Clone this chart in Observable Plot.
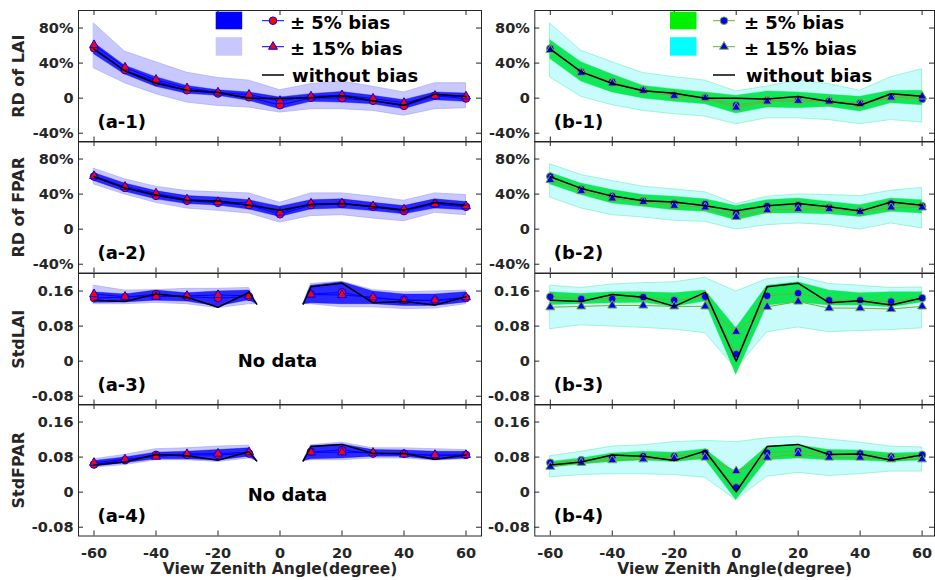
<!DOCTYPE html>
<html><head><meta charset="utf-8">
<script src="https://cdn.jsdelivr.net/npm/d3@7"></script>
<script src="https://cdn.jsdelivr.net/npm/@observablehq/plot@0.6"></script>
<style>
html,body{margin:0;padding:0;overflow:hidden;background:#fff;}
#chart{position:relative;width:935px;height:580px;overflow:hidden;}
#chart svg{position:absolute;}
</style></head><body><div id="chart"></div>
<script>
// ---------- data ----------
const angles = [-60,-50,-40,-30,-20,-10,0,10,20,30,40,50,60];
const anglesGap = [-60,-50,-40,-30,-20,-10,-7.5,0,7.5,10,20,30,40,50,60];
const xTicks = [-60,-40,-20,0,20,40,60];
const pctTicks = [-40,0,40,80];
const stdTicks = [-0.08,0,0.08,0.16];

// (a-1) RD of LAI, percent
const a1Base   = [56, 31, 17, 9, 6.5, 0, -0.4, 0.4, 2.7, -3, -8, 4.6, 2];
const a1Circ5  = [57, 32, 19, 9, 5.3, 1, -8, 0.4, 0, -3, -8.8, 2.7, -0.4];
const a1Tri15  = [60.6, 35, 21, 11.4, 6.5, 4, -3, 2, 3.4, -0.4, -5.3, 2.7, 2];
const a1Band5Hi  = [63, 37, 24, 14, 9, 6.5, 0.8, 4.6, 7, 2.7, -2.3, 6.5, 5.3];
const a1Band5Lo  = [50, 27, 13, 5, 2.7, -3, -12.6, -4.2, -5, -7, -12.6, -2.3, -4.2];
const a1Band15Hi = [85, 53, 41, 29, 23, 20, 9, 16, 19, 13, 6.5, 17, 17];
const a1Band15Lo = [34, 17, 4.6, -5, -8.8, -10.7, -16.4, -12.6, -12.6, -14.5, -20, -12.6, -11.4];

// (b-1)
const b1Base   = [56, 30, 16.8, 8.4, 5.7, 0, 0, -1, 2, -3.8, -8, 5, 2.3];
const b1Circ5  = [56.7, 30, 18.7, 9, 3.4, 0.8, -8, -2.3, -2.3, -3, -5.7, 1.5, -1];
const b1Tri15  = [55, 29, 16.8, 8.4, 2.7, 0, -10.7, -3.8, -3, -3.8, -6.9, 0.8, 2];
const b1Band5Hi  = [66, 41, 27, 14, 10, 6.5, 2.7, 7.6, 6.5, 3.8, 1.5, 8.4, 8.4];
const b1Band5Lo  = [44.6, 19, 6.5, -0.4, -4.2, -7, -17.5, -10.7, -11.4, -10, -15.2, -5.7, -8];
const b1Band15Hi = [85, 54, 41, 28.6, 24, 20, 7.6, 13.3, 20, 16, 8.4, 24, 33];
const b1Band15Lo = [23.6, 1.5, -8, -14.5, -18.3, -21, -29.7, -23, -23, -25, -29.7, -25, -27.8];

// (a-2) RD of FPAR
const a2Base   = [59.8, 47, 38.9, 33, 32, 27.4, 21.7, 28.2, 29.3, 25.5, 21.7, 30.5, 27.4];
const a2Circ5  = [60, 47, 38, 32.4, 30, 27.4, 17, 27.4, 28.6, 25.5, 20.6, 28.6, 25.5];
const a2Tri15  = [60.6, 48.4, 40.8, 34, 31, 30, 19, 29.3, 29.3, 26.3, 22.5, 28.6, 26.3];
const a2Band5Hi  = [64, 52, 43.4, 37.7, 36, 33, 25.5, 33, 34, 30, 26.3, 34, 31];
const a2Band5Lo  = [55, 42.7, 34, 28.6, 27, 22.5, 14, 22.5, 23.6, 20.6, 17, 23.6, 21.7];
const a2Band15Hi = [69, 56.8, 48.4, 43.4, 42, 40.8, 30, 40.8, 40.8, 37, 32.4, 40.8, 38.9];
const a2Band15Lo = [51, 39.6, 30, 23.6, 21, 18, 7.6, 14.9, 16, 12.2, 9, 18.7, 16];

// (b-2)
const b2Base   = [59.8, 46.5, 37.7, 32.4, 31, 26.7, 21, 26.7, 29.3, 25.5, 20.6, 30.9, 27.4];
const b2Circ5  = [60, 45.7, 37.7, 32.4, 29.3, 28.6, 18, 26.3, 27.4, 24.8, 20.6, 29.3, 26.3];
const b2Tri15  = [56, 43.4, 35, 31, 26.7, 24.8, 14, 21.7, 22.9, 22.9, 19.8, 24.8, 24.8];
const b2Band5Hi  = [64, 52, 44.6, 38.9, 37, 34, 26.3, 33, 35, 31, 27.4, 35, 33];
const b2Band5Lo  = [51, 38.9, 29.3, 25.5, 21.7, 19.8, 10.3, 18, 18, 17, 14, 19.8, 18];
const b2Band15Hi = [74, 61.7, 55, 48.4, 45.3, 42, 28.6, 37, 39.6, 38.9, 37.7, 43.8, 47];
const b2Band15Lo = [36, 23.6, 16, 13.3, 9.5, 8.4, -0.4, 4.6, 6.5, 4.6, -0.4, 6.5, 0.8];

// (a-3) StdLAI (no data near nadir)
const a3Base   = [0.139, 0.136, 0.153, 0.146, 0.123, 0.157, 0.130, null, 0.130, 0.170, 0.178, 0.133, 0.136, 0.128, 0.147];
const a3Circ5  = [0.144, 0.146, 0.153, 0.147, 0.144, 0.147, null, null, null, 0.153, 0.157, 0.143, 0.140, 0.138, 0.144];
const a3Tri15  = [0.153, 0.147, 0.147, 0.149, 0.151, 0.149, null, null, null, 0.152, 0.151, 0.146, 0.138, 0.139, 0.146];
const a3Band5Hi  = [0.157, 0.152, 0.161, 0.155, 0.159, 0.161, 0.130, null, 0.130, 0.172, 0.180, 0.159, 0.152, 0.152, 0.157];
const a3Band5Lo  = [0.133, 0.134, 0.138, 0.136, 0.125, 0.139, 0.130, null, 0.130, 0.132, 0.130, 0.130, 0.126, 0.126, 0.134];
const a3Band15Hi = [0.172, 0.161, 0.162, 0.165, 0.165, 0.167, 0.130, null, 0.130, 0.176, 0.181, 0.162, 0.157, 0.159, 0.161];
const a3Band15Lo = [0.130, 0.130, 0.133, 0.130, 0.121, 0.130, 0.130, null, 0.130, 0.130, 0.123, 0.123, 0.119, 0.120, 0.130];

// (b-3)
const b3Base   = [0.139, 0.136, 0.152, 0.146, 0.125, 0.157, 0.000, 0.170, 0.178, 0.133, 0.138, 0.128, 0.144];
const b3Circ5  = [0.147, 0.142, 0.142, 0.146, 0.139, 0.147, 0.016, 0.149, 0.155, 0.139, 0.139, 0.136, 0.144];
const b3Tri15  = [0.123, 0.125, 0.127, 0.127, 0.125, 0.125, 0.067, 0.124, 0.136, 0.121, 0.121, 0.119, 0.125];
const b3Band5Hi  = [0.157, 0.153, 0.157, 0.157, 0.155, 0.161, 0.075, 0.172, 0.180, 0.161, 0.155, 0.157, 0.157];
const b3Band5Lo  = [0.128, 0.130, 0.132, 0.133, 0.124, 0.136, -0.031, 0.127, 0.134, 0.127, 0.127, 0.123, 0.134];
const b3Band15Hi = [0.172, 0.167, 0.175, 0.178, 0.180, 0.190, 0.159, 0.187, 0.193, 0.176, 0.172, 0.167, 0.168];
const b3Band15Lo = [0.073, 0.082, 0.079, 0.076, 0.072, 0.064, -0.018, 0.066, 0.077, 0.066, 0.069, 0.071, 0.075];

// (a-4) StdFPAR (no data near nadir)
const a4Base   = [0.062, 0.069, 0.086, 0.083, 0.073, 0.092, 0.071, null, 0.071, 0.104, 0.109, 0.088, 0.088, 0.075, 0.085];
const a4Circ5  = [0.063, 0.073, 0.085, 0.085, 0.085, 0.088, null, null, null, 0.092, 0.096, 0.088, 0.088, 0.083, 0.085];
const a4Tri15  = [0.067, 0.075, 0.081, 0.087, 0.088, 0.091, null, null, null, 0.091, 0.091, 0.090, 0.086, 0.085, 0.085];
const a4Band5Hi  = [0.071, 0.079, 0.090, 0.092, 0.096, 0.100, 0.071, null, 0.071, 0.105, 0.109, 0.096, 0.095, 0.092, 0.092];
const a4Band5Lo  = [0.058, 0.066, 0.075, 0.075, 0.072, 0.081, 0.071, null, 0.071, 0.075, 0.077, 0.081, 0.081, 0.073, 0.077];
const a4Band15Hi = [0.075, 0.085, 0.098, 0.100, 0.104, 0.106, 0.071, null, 0.071, 0.107, 0.113, 0.100, 0.100, 0.098, 0.096];
const a4Band15Lo = [0.056, 0.062, 0.073, 0.073, 0.069, 0.077, 0.071, null, 0.071, 0.073, 0.073, 0.077, 0.077, 0.072, 0.075];

// (b-4)
const b4Base   = [0.062, 0.069, 0.085, 0.082, 0.072, 0.094, 0.001, 0.104, 0.109, 0.086, 0.087, 0.073, 0.085];
const b4Circ5  = [0.067, 0.073, 0.079, 0.082, 0.082, 0.090, 0.011, 0.090, 0.094, 0.087, 0.088, 0.081, 0.085];
const b4Tri15  = [0.058, 0.067, 0.073, 0.075, 0.077, 0.079, 0.048, 0.079, 0.087, 0.079, 0.079, 0.075, 0.075];
const b4Band5Hi  = [0.069, 0.077, 0.088, 0.092, 0.090, 0.098, 0.043, 0.104, 0.107, 0.096, 0.095, 0.088, 0.090];
const b4Band5Lo  = [0.056, 0.063, 0.069, 0.072, 0.069, 0.075, -0.018, 0.073, 0.077, 0.073, 0.072, 0.069, 0.072];
const b4Band15Hi = [0.082, 0.092, 0.104, 0.107, 0.114, 0.117, 0.114, 0.123, 0.127, 0.120, 0.113, 0.104, 0.102];
const b4Band15Lo = [0.034, 0.039, 0.041, 0.041, 0.039, 0.033, -0.018, 0.035, 0.044, 0.037, 0.041, 0.047, 0.047];

const legendLabels = ["± 5% bias", "± 15% bias", "without bias"];
const yTitles = ["RD of LAI", "RD of FPAR", "StdLAI", "StdFPAR"];
const xTitle = "View Zenith Angle(degree)";

// ---------- styling / layout ----------
const AX = "#262626";
const FONT = "'DejaVu Sans', 'Liberation Sans', sans-serif";
const theme = {
  a: {b15: "#c8c8ff", b15s: "#a6a6ff", b5: "#0000ff", b5o: 0.8, line: "#0000ff", mf: "#ff0000", ms: "#0000ff",
      sw5: "#0000ff", sw15: "#c8c8ff"},
  b: {b15: "#c8fbfb", b15s: "#7af2c4", b5: "#00e64c", b5o: 0.92, line: "#77ac30", mf: "#0000ff", ms: "#77ac30",
      sw5: "#00f000", sw15: "#00ffff"}
};
const colGeom = {
  a: {left: 0, width: 500, ml: 78, mr: 19, domain: [-65, 65]},
  b: {left: 480, width: 455, ml: 54.3, mr: 1, domain: [-65, 64]}
};
const innerH = 131.5, top0 = 9.8;

const panels = [
  {col:"a", row:0, xs:angles, d:[a1Base,a1Circ5,a1Tri15,a1Band5Lo,a1Band5Hi,a1Band15Lo,a1Band15Hi], label:"(a-1)"},
  {col:"b", row:0, xs:angles, d:[b1Base,b1Circ5,b1Tri15,b1Band5Lo,b1Band5Hi,b1Band15Lo,b1Band15Hi], label:"(b-1)"},
  {col:"a", row:1, xs:angles, d:[a2Base,a2Circ5,a2Tri15,a2Band5Lo,a2Band5Hi,a2Band15Lo,a2Band15Hi], label:"(a-2)"},
  {col:"b", row:1, xs:angles, d:[b2Base,b2Circ5,b2Tri15,b2Band5Lo,b2Band5Hi,b2Band15Lo,b2Band15Hi], label:"(b-2)"},
  {col:"a", row:2, xs:anglesGap, d:[a3Base,a3Circ5,a3Tri15,a3Band5Lo,a3Band5Hi,a3Band15Lo,a3Band15Hi], label:"(a-3)", noData:[-0.8, 0]},
  {col:"b", row:2, xs:angles, d:[b3Base,b3Circ5,b3Tri15,b3Band5Lo,b3Band5Hi,b3Band15Lo,b3Band15Hi], label:"(b-3)"},
  {col:"a", row:3, xs:anglesGap, d:[a4Base,a4Circ5,a4Tri15,a4Band5Lo,a4Band5Hi,a4Band15Lo,a4Band15Hi], label:"(a-4)", noData:[2.4, -0.007]},
  {col:"b", row:3, xs:angles, d:[b4Base,b4Circ5,b4Tri15,b4Band5Lo,b4Band5Hi,b4Band15Lo,b4Band15Hi], label:"(b-4)"}
];

const chart = document.getElementById("chart");
const pctFmt = d => d === 0 ? "0" : d + "%";
const stdFmt = d => d === 0 ? "0" : d.toFixed(2);

for (const p of panels) {
  const th = theme[p.col], g = colGeom[p.col];
  const isPct = p.row < 2;
  const yDomain = isPct ? [-50, 100] : [-0.1, 0.2];
  const yTicks = isPct ? pctTicks : stdTicks;
  const bottom = p.row === 3;
  const mt = 6, mb = bottom ? 46 : 6;
  const innerW = g.width - g.ml - g.mr;
  const [base, c5, t15, lo5, hi5, lo15, hi15] = p.d;
  const rows = p.xs.map((x, i) => ({x, base: base[i], c5: c5[i], t15: t15[i], lo5: lo5[i], hi5: hi5[i], lo15: lo15[i], hi15: hi15[i]}));
  const marks = [
    Plot.areaY(rows, {x: "x", y1: "lo15", y2: "hi15", fill: th.b15, stroke: th.b15s, strokeWidth: 0.7}),
    Plot.areaY(rows, {x: "x", y1: "lo5", y2: "hi5", fill: th.b5, fillOpacity: th.b5o, stroke: th.b5, strokeOpacity: 0.6, strokeWidth: 0.6}),
    Plot.line(rows, {x: "x", y: "c5", stroke: th.line, strokeWidth: 1}),
    Plot.line(rows, {x: "x", y: "t15", stroke: th.line, strokeWidth: 1}),
    Plot.dot(rows, {x: "x", y: "c5", r: 3.8, fill: th.mf, stroke: th.ms, strokeWidth: 1}),
    Plot.dot(rows, {x: "x", y: "t15", r: 3.3, symbol: "triangle", fill: th.mf, stroke: th.ms, strokeWidth: 1}),
    Plot.line(rows, {x: "x", y: "base", stroke: "black", strokeWidth: 1.5}),
    Plot.frame({stroke: AX, strokeWidth: 1}),
    Plot.tickX(xTicks, {x: d => d, insetTop: innerH - 5, stroke: AX}),
    Plot.tickX(xTicks, {x: d => d, insetBottom: innerH - 5, stroke: AX}),
    Plot.tickY(yTicks, {y: d => d, insetRight: innerW - 5, stroke: AX}),
    Plot.tickY(yTicks, {y: d => d, insetLeft: innerW - 5, stroke: AX}),
    Plot.axisY({ticks: yTicks, tickSize: 0, tickPadding: 5, tickFormat: isPct ? pctFmt : stdFmt, label: null, fontSize: 14.5, fontWeight: "bold"}),
    Plot.text([p.label], {text: d => d, frameAnchor: "bottom-left", dx: 19, dy: -20, textAnchor: "start", lineAnchor: "middle", fontSize: 18, fontWeight: "bold", fill: "black"})
  ];
  if (p.col === "a") {
    marks.push(Plot.text([yTitles[p.row]], {text: d => d, frameAnchor: "left", dx: -60, rotate: -90, textAnchor: "middle", lineAnchor: "middle", fontSize: 16, fontWeight: "bold", fill: AX}));
  }
  if (bottom) {
    marks.push(Plot.axisX({ticks: xTicks, tickSize: 0, tickPadding: 12, tickFormat: d => String(d), label: null, fontSize: 14.5, fontWeight: "bold"}));
    marks.push(Plot.text([xTitle], {text: d => d, frameAnchor: "bottom", dy: 33, lineAnchor: "middle", fontSize: 15.5, fontWeight: "bold", fill: AX}));
  }
  if (p.noData) {
    marks.push(Plot.text([p.noData], {x: d => d[0], y: d => d[1], text: () => "No data", fontSize: 18, fontWeight: "bold", fill: "black"}));
  }
  const svg = Plot.plot({
    width: g.width, height: mt + innerH + mb,
    marginLeft: g.ml, marginRight: g.mr, marginTop: mt, marginBottom: mb,
    x: {domain: g.domain, axis: null},
    y: {domain: yDomain, axis: null},
    style: `font-family: ${FONT}; font-size: 14.5px; font-weight: bold; overflow: visible; background: transparent; max-width: none; color: ${AX};`,
    marks
  });
  svg.style.position = "absolute";
  svg.style.left = g.left + "px";
  svg.style.top = (top0 + innerH * p.row - mt) + "px";
  chart.appendChild(svg);
}

// ---------- legends ----------
const leg = d3.select(chart).append("svg")
  .attr("width", 935).attr("height", 580)
  .style("left", "0px").style("top", "0px").style("pointer-events", "none")
  .style("font-family", FONT).style("font-weight", "bold");
const legendGeom = [
  {col: "a", sx: 215.7, lx: 262, tx: 290},
  {col: "b", sx: 670, lx: 713, tx: 744}
];
for (const L of legendGeom) {
  const th = theme[L.col];
  leg.append("rect").attr("x", L.sx).attr("y", 11.7).attr("width", 26.5).attr("height", 17.6).attr("fill", th.sw5);
  leg.append("rect").attr("x", L.sx).attr("y", 37.2).attr("width", 26.5).attr("height", 18.5).attr("fill", th.sw15);
  const rowsY = [20.7, 46.7];
  rowsY.forEach((y, i) => {
    leg.append("line").attr("x1", L.lx).attr("x2", L.lx + 22).attr("y1", y).attr("y2", y).attr("stroke", th.line).attr("stroke-width", 1);
    const sym = d3.symbol(i === 0 ? d3.symbolCircle : d3.symbolTriangle, i === 0 ? Math.PI * 3.8 * 3.8 : Math.PI * 3.3 * 3.3);
    leg.append("path").attr("d", sym()).attr("transform", `translate(${L.lx + 11},${y})`)
      .attr("fill", th.mf).attr("stroke", th.ms).attr("stroke-width", 1);
    leg.append("text").attr("x", L.tx).attr("y", y + 8.3).attr("font-size", 18).attr("fill", "black").text(legendLabels[i]);
  });
  leg.append("line").attr("x1", L.lx).attr("x2", L.lx + 22).attr("y1", 75).attr("y2", 75).attr("stroke", "black").attr("stroke-width", 1.5);
  leg.append("text").attr("x", L.tx + 2).attr("y", 81.5).attr("font-size", 18).attr("fill", "black").text(legendLabels[2]);
}
</script></body></html>
